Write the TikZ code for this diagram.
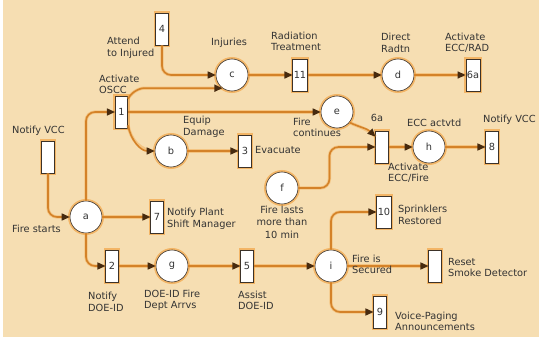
\documentclass[tikz,border=0pt]{standalone}
\usepackage{fontspec}
\setmainfont{DejaVu Sans}
\usetikzlibrary{arrows.meta}
\definecolor{bg}{RGB}{246,222,178}
\definecolor{arccol}{RGB}{212,130,40}
\definecolor{tipcol}{RGB}{70,42,15}
\definecolor{glowcol}{RGB}{242,165,70}
\definecolor{edgecol}{RGB}{60,50,40}
\begin{document}
\begin{tikzpicture}[x=1pt,y=1pt,
  every node/.style={font=\fontsize{9.8}{11.5}\selectfont, text=black!80},
  place/.style={circle, draw=edgecol, line width=0.6pt, fill=white, minimum size=32pt, inner sep=0pt,
    preaction={draw=glowcol, line width=4pt, draw opacity=0.7}},
  trans/.style={rectangle, draw=edgecol, line width=0.6pt, fill=white, minimum width=12.5pt, minimum height=32pt, inner sep=1pt,
    preaction={draw=glowcol, line width=4pt, draw opacity=0.7}},
  arc/.style={draw=arccol, line width=1.6pt, -{Triangle[length=8pt,width=7pt,color=tipcol]}, rounded corners=9pt,
    preaction={draw=glowcol, draw opacity=0.45, line width=3.2pt, -}},
  lbl/.style={anchor=west, align=left, inner sep=0pt}
]
\useasboundingbox (0,0) rectangle (539,341);
\fill[bg] (3,4) rectangle (539,341);

% transitions
\node[trans] (t4) at (162,312) {4};
\node[trans] (t1) at (121.5,229) {1};
\node[trans] (tvcc) at (48,184) {};
\node[trans] (t3) at (245,190) {3};
\node[trans] (t11) at (300,266) {11};
\node[trans] (t6a) at (473,266) {6a};
\node[trans] (t6b) at (382,194) {};
\node[trans] (t8) at (492,194) {8};
\node[trans] (t7) at (157,124) {7};
\node[trans] (t2) at (112,75) {2};
\node[trans] (t5) at (247,75) {5};
\node[trans] (t10) at (384,129) {10};
\node[trans] (trs) at (435,75) {};
\node[trans] (t9) at (380,29) {9};

% places
\node[place] (pc) at (232,266) {c};
\node[place] (pd) at (398,266) {d};
\node[place] (pe) at (337,229) {e};
\node[place] (ph) at (429,194) {h};
\node[place] (pb) at (171,190) {b};
\node[place] (pf) at (282,153) {f};
\node[place] (pa) at (86,124) {a};
\node[place] (pg) at (172,75) {g};
\node[place] (pi) at (331,75) {i};

% connectors
\draw[arc] (tvcc.south) |- (pa.west);
\draw[arc] (pa.north) |- (t1.west);
\draw[arc] (t4.south) |- (pc.west);
\draw[arc] ([yshift=-3pt]t1.north east) to[out=60,in=180] ([xshift=-70pt]pc.234) -- (pc.234);
\draw[arc] (t1.east) -- (pe.west);
\draw[arc] ([yshift=3pt]t1.south east) to[out=-80,in=180] (pb.west);
\draw[arc] (pb) -- (t3);
\draw[arc] (pc) -- (t11);
\draw[arc] (t11) -- (pd);
\draw[arc] (pd) -- (t6a);
\draw[arc] (pe.-40) to[out=-25,in=135] ([yshift=-6pt]t6b.north west);
\draw[arc] (pf.east) -| ([xshift=-46pt]t6b.west) -- (t6b.west);
\draw[arc] (t6b) -- (ph);
\draw[arc] (ph) -- (t8);
\draw[arc] (pa) -- (t7);
\draw[arc] (pa.south) |- (t2.west);
\draw[arc] (t2) -- (pg);
\draw[arc] (pg) -- (t5);
\draw[arc] (t5) -- (pi);
\draw[arc] (pi.north) |- (t10.west);
\draw[arc] (pi) -- (trs);
\draw[arc] (pi.south) |- (t9.west);

% labels
\node[lbl] (l4) at (107,293) {Attend\\to Injured};
\node[inner sep=0pt] (lc) at (229,298) {Injuries};
\node[lbl] (l11) at (271,299.5) {Radiation\\Treatment};
\node[lbl] (ld) at (381,298) {Direct\\Radtn};
\node[lbl] (l6a) at (445,298.5) {Activate\\ECC/RAD};
\node[lbl] (l1) at (99,256.5) {Activate\\OSCC};
\node[lbl] (lvcc) at (12,210) {Notify VCC};
\node[lbl] (lb) at (183,214) {Equip\\Damage};
\node[lbl] (l3) at (255,191) {Evacuate};
\node[lbl] (le) at (293,213.5) {Fire\\continues};
\node[inner sep=0pt] (l6b) at (377,223) {6a};
\node[lbl] (lh) at (407,218) {ECC actvtd};
\node[lbl] (l8) at (483,221) {Notify VCC};
\node[lbl] (l6c) at (388,168.5) {Activate\\ECC/Fire};
\node[align=center, inner sep=0pt, font=\fontsize{9.8}{12.5}\selectfont] (lf) at (282,119) {Fire lasts\\more than\\10 min};
\node[lbl] (la) at (12,112) {Fire starts};
\node[lbl] (l7) at (167,122) {Notify Plant\\Shift Manager};
\node[lbl] (l10) at (398,126) {Sprinklers\\Restored};
\node[lbl] (l2) at (88,39) {Notify\\DOE-ID};
\node[lbl] (lg) at (144,40.5) {DOE-ID Fire\\Dept Arrvs};
\node[lbl] (l5) at (238,40.5) {Assist\\DOE-ID};
\node[lbl] (li) at (352,76.5) {Fire is\\Secured};
\node[lbl] (lrs) at (448,73.5) {Reset\\Smoke Detector};
\node[lbl] (l9) at (395,19.5) {Voice-Paging\\Announcements};
\end{tikzpicture}
\end{document}
